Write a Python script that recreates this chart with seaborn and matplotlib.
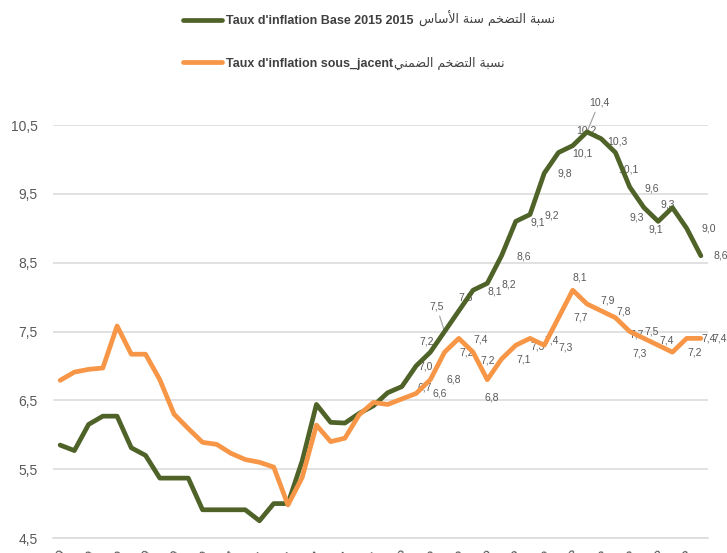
import matplotlib
matplotlib.use('Agg')
import matplotlib.pyplot as plt
import pandas as pd
import seaborn as sns
from matplotlib.font_manager import FontProperties

# monthly values, Jan 2020 -> Oct 2023
inflation_base = [5.85, 5.77, 6.15, 6.27, 6.27, 5.81, 5.70, 5.37, 5.37, 5.37,
                  4.91, 4.91, 4.91, 4.91, 4.75, 5.0, 5.0, 5.62, 6.44, 6.18,
                  6.17, 6.31, 6.42, 6.61, 6.7, 7.0, 7.2, 7.5, 7.8, 8.1,
                  8.2, 8.6, 9.1, 9.2, 9.8, 10.1, 10.2, 10.4, 10.3, 10.1,
                  9.6, 9.3, 9.1, 9.3, 9.0, 8.6]
inflation_sous_jacent = [6.79, 6.91, 6.95, 6.97, 7.58, 7.17, 7.17, 6.80, 6.30, 6.09,
                         5.89, 5.86, 5.73, 5.64, 5.60, 5.53, 4.98, 5.38, 6.14, 5.90,
                         5.95, 6.29, 6.47, 6.44, 6.52, 6.6, 6.8, 7.2, 7.4, 7.2,
                         6.8, 7.1, 7.3, 7.4, 7.3, 7.7, 8.1, 7.9, 7.8, 7.7,
                         7.5, 7.4, 7.3, 7.2, 7.4, 7.4]
x_labels = ['janv.-20', 'mars-20', 'mai-20', 'juil.-20', 'sept.-20', 'nov.-20',
            'janv.-21', 'mars-21', 'mai-21', 'juil.-21', 'sept.-21', 'nov.-21',
            'janv.-22', 'mars-22', 'mai-22', 'juil.-22', 'sept.-22', 'nov.-22',
            'janv.-23', 'mars-23', 'mai-23', 'juil.-23', 'sept.-23']
y_ticks = [4.5, 5.5, 6.5, 7.5, 8.5, 9.5, 10.5]

fr_base = "Taux d'inflation Base 2015 2015"
fr_sj = "Taux d'inflation sous_jacent"
ar_base = 'نسبة التضخم سنة الأساس'
ar_sj = 'نسبة التضخم الضمني'

GREEN = '#4f6228'
ORANGE = '#f79646'
GREY = '#595959'

# --- tiny arabic shaper (presentation forms + visual order) ---
DUAL = {'ب': 0xFE8F, 'ت': 0xFE95, 'خ': 0xFEA5, 'س': 0xFEB1, 'ض': 0xFEBD,
        'ل': 0xFEDD, 'م': 0xFEE1, 'ن': 0xFEE5, 'ي': 0xFEF1}
RIGHT = {'ا': 0xFE8D, 'أ': 0xFE83, 'ة': 0xFE93}
LAM_ALEF = {'ا': 0xFEFB, 'أ': 0xFEF7}


def shape(text):
    out = []
    prev = False
    i = 0
    while i < len(text):
        c = text[i]
        nxt = text[i + 1] if i + 1 < len(text) else None
        if c == 'ل' and nxt in LAM_ALEF:
            out.append(chr(LAM_ALEF[nxt] + (1 if prev else 0)))
            prev = False
            i += 2
            continue
        if c in DUAL:
            joins = nxt is not None and (nxt in DUAL or nxt in RIGHT)
            base = DUAL[c]
            if prev and joins:
                out.append(chr(base + 3))
            elif prev:
                out.append(chr(base + 1))
            elif joins:
                out.append(chr(base + 2))
            else:
                out.append(chr(base))
            prev = joins
        elif c in RIGHT:
            out.append(chr(RIGHT[c] + (1 if prev else 0)))
            prev = False
        else:
            out.append(c)
            prev = False
        i += 1
    return ''.join(out)[::-1]


n = len(inflation_base)
df = pd.DataFrame({
    'mois': list(range(n)) * 2,
    'taux': inflation_base + inflation_sous_jacent,
    'serie': [fr_base] * n + [fr_sj] * n,
})

sns.set_style('white')
plt.rcParams['font.family'] = ['Liberation Sans', 'DejaVu Sans']

W, H = 727, 553
fig = plt.figure(figsize=(W / 100, H / 100), dpi=100)
ax = fig.add_axes([53 / W, 15 / H, 655 / W, 413 / H])

sns.lineplot(data=df, x='mois', y='taux', hue='serie', hue_order=[fr_base, fr_sj],
             palette=[GREEN, ORANGE], linewidth=3.4, legend=False, ax=ax,
             solid_joinstyle='round', solid_capstyle='round', zorder=3)

ax.set_xlim(-0.5, n - 0.5)
ax.set_ylim(4.5, 10.5)
ax.set_yticks(y_ticks)
ax.set_yticklabels([f'{t:.1f}'.replace('.', ',') for t in y_ticks])
ax.yaxis.grid(True, color='#d9d9d9', lw=1.1)
ax.set_axisbelow(True)
for s in ['left', 'right', 'top']:
    ax.spines[s].set_visible(False)
ax.spines['bottom'].set_color('#d9d9d9')
ax.spines['bottom'].set_linewidth(1.1)

ax.set_xticks(list(range(0, n, 2)))
ax.set_xticklabels(x_labels, rotation=45, ha='right', va='top', rotation_mode='anchor')
ax.set_xticks([k - 0.5 for k in range(0, n + 1, 2)], minor=True)
ax.tick_params(axis='x', which='major', length=0, pad=7, labelsize=10, labelcolor=GREY)
ax.tick_params(axis='x', which='minor', length=5, width=1.1, color='#d9d9d9', direction='out')
ax.tick_params(axis='y', length=0, pad=11, labelsize=10, labelcolor=GREY)
ax.set_xlabel('')
ax.set_ylabel('')

# data labels (pixel offsets from the point, y measured downwards)
base_start = 24
base_offsets = [(23, 1), (10, 1), (-4, -11), (-8, -25), (7, -13), (22, 1), (22, 1), (22, 1),
                (22, 1), (22, 1), (21, 0), (24, 1), (14, -15), (12, -29), (16, 3), (13, 17),
                (22, 2), (-7, 10), (-2, 8), (-5, -3), (22, 0), (20, 0)]
sj_start = 25
sj_offsets = [(24, 0), (23, 0), (22, 0), (22, 1), (15, 8), (4, 18), (22, 0), (22, 1),
              (22, 2), (21, 2), (22, 0), (7, -13), (21, -3), (22, 1), (21, 17), (22, 0),
              (23, 2), (-19, 8), (22, 0), (22, 0), (19, 0)]
leaders = {27, 37}

for start, vals, offs, is_base in [(base_start, inflation_base, base_offsets, True),
                                   (sj_start, inflation_sous_jacent, sj_offsets, False)]:
    for k, (dx, dy) in enumerate(offs):
        i = start + k
        v = vals[i]
        arrow = None
        if is_base and i in leaders:
            arrow = dict(arrowstyle='-', color='#a6a6a6', lw=0.9, shrinkA=1, shrinkB=1)
        ax.annotate(f'{v:.1f}'.replace('.', ','), (i, v), xytext=(dx, -dy),
                    textcoords='offset pixels', ha='center', va='center',
                    fontsize=7.5, color=GREY, zorder=1, annotation_clip=False,
                    arrowprops=arrow)

# legend: bold french part, arabic part appended after it
handles = ax.get_lines()[:2]
prop = FontProperties(family=['Liberation Sans', 'DejaVu Sans'], weight='bold', size=9)
leg = fig.legend(handles, [fr_base, fr_sj], loc='upper left',
                 bbox_to_anchor=(183 / W, 1 - 15 / H), frameon=False, prop=prop,
                 borderpad=0, borderaxespad=0, handlelength=3.1, handletextpad=0.35,
                 labelspacing=2.45)
fig.canvas.draw()
renderer = fig.canvas.get_renderer()
for t, ar, gap in zip(leg.get_texts(), [ar_base, ar_sj], [5, 1]):
    t.set_color('#404040')
    bb = t.get_window_extent(renderer)
    fig.text((bb.x1 + gap) / W, (bb.y0 + 2.8) / H, shape(ar), ha='left', va='baseline',
             fontsize=9, family=['DejaVu Sans'], color='#404040')

fig.savefig('out.png', dpi=100)
